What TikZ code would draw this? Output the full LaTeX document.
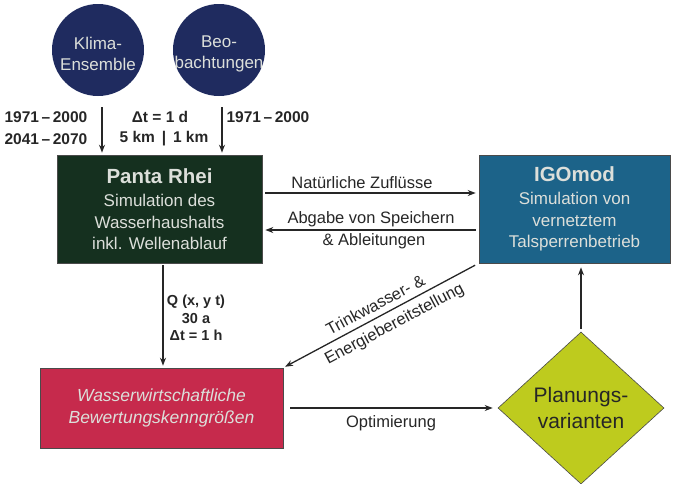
\documentclass[tikz,border=0pt]{standalone}
\usepackage{fontspec}
\setmainfont{Liberation Sans}
\usetikzlibrary{shapes.geometric,arrows.meta}

\definecolor{navy}{HTML}{1F2B5F}
\definecolor{pantagreen}{HTML}{15301F}
\definecolor{igoblue}{HTML}{1C6389}
\definecolor{bewred}{HTML}{C62A4C}
\definecolor{planyellow}{HTML}{BECB1E}
\definecolor{lighttext}{HTML}{DCDFDA}
\definecolor{edgegray}{HTML}{4A4A4A}

\tikzset{
  source/.style={circle, fill=navy, minimum size=92pt, inner sep=0pt},
  sourcetext/.style={inner sep=0pt, text=lighttext, align=center,
    font=\fontsize{17}{20.5}\selectfont},
  modelbox/.style={rectangle, draw=edgegray, line width=0.6pt, inner sep=0pt,
    text=lighttext, align=center, font=\fontsize{17}{21.5}\selectfont},
  decision/.style={diamond, draw=edgegray, line width=0.6pt, fill=planyellow,
    inner sep=0pt, minimum width=166pt, minimum height=152pt, align=center,
    text=black!85, font=\fontsize{21}{26}\selectfont},
  flow/.style={draw=black!85, line width=1.3pt,
    -{Stealth[length=8pt,width=6pt]}},
  lbl/.style={inner sep=0pt, text=black!85, align=center,
    font=\fontsize{16.5}{20}\selectfont},
  blbl/.style={inner sep=0pt, text=black!85, align=center,
    font=\bfseries\fontsize{15.5}{22}\selectfont},
  qlbl/.style={inner sep=0pt, text=black!85, align=center,
    font=\bfseries\fontsize{14.5}{17.5}\selectfont},
}

\newcommand{\boxtitle}[1]{{\bfseries\fontsize{20.5}{22}\selectfont #1}}

\begin{document}
\begin{tikzpicture}[x=1pt,y=-1pt]
  \useasboundingbox (0,0) rectangle (674,483);

  % data sources
  \node[source] (klima) at (98,50) {};
  \node[source] (beob)  at (219,50) {};
  \node[sourcetext] (klimatext) at ([yshift=-4pt]klima.center) {Klima-\\Ensemble};
  \node[sourcetext] (beobtext)  at ([yshift=-4pt]beob.center) {Beo-\\bachtungen};

  % models
  \node[modelbox, fill=pantagreen, minimum width=205pt, minimum height=108pt]
    (panta) at (159.5,209)
    {\boxtitle{Panta Rhei}\\[2pt]Simulation des\\Wasserhaushalts\\inkl. Wellenablauf};
  \node[modelbox, fill=igoblue, minimum width=191pt, minimum height=108pt]
    (igo) at (574.5,209)
    {\boxtitle{IGOmod}\\[2pt]Simulation von\\vernetztem\\Talsperrenbetrieb};

  % evaluation and variants
  \node[modelbox, fill=bewred, minimum width=243pt, minimum height=80pt,
    font=\itshape\fontsize{17.5}{22}\selectfont]
    (bew) at (161.5,408) {Wasserwirtschaftliche\\Bewertungskenngrößen};
  \node[decision] (plan) at (581,408) {Planungs-\\varianten};

  % inputs into Panta Rhei
  \draw[flow, shorten <=11pt, shorten >=2pt]
    ([xshift=4pt]klima.south) -- ([xshift=4pt]klima.south |- panta.north);
  \draw[flow, shorten <=11pt, shorten >=2pt]
    ([xshift=3pt]beob.south) -- ([xshift=3pt]beob.south |- panta.north);

  \node[blbl] (per1) at (46,128) {1971\,–\,2000\\2041\,–\,2070};
  \node[blbl] (dt) at (160,117) {Δt = 1 d};
  \node[blbl] (res) at (164,139) {5 km\ \,|\ \,1 km};
  \node[blbl] (per2) at (268,117) {1971\,–\,2000};

  % coupling Panta Rhei <-> IGOmod
  \draw[flow, shorten <=3pt, shorten >=3pt]
    ([yshift=16pt]panta.east) -- ([yshift=16pt]igo.west);
  \draw[flow, shorten <=3pt, shorten >=3pt]
    ([yshift=-21pt]igo.west) -- ([yshift=-21pt]panta.east);
  \node[lbl] (zufl) at (362,183) {Natürliche Zuflüsse};
  \node[lbl] (abg)  at (371,219) {Abgabe von Speichern};
  \node[lbl] (abl)  at (374,241) {\& Ableitungen};

  % Panta Rhei -> evaluation
  \draw[flow, shorten <=2pt, shorten >=2pt]
    ([xshift=3.5pt]panta.south) -- ([xshift=3.5pt]panta.south |- bew.north);
  \node[qlbl] (q) at (196,318) {Q (x, y t)\\30 a\\Δt = 1 h};

  % IGOmod -> evaluation
  \draw[flow, shorten <=4pt, shorten >=2pt] (igo.south west) --
    node[lbl, sloped, above=5.5pt, pos=0.5] (trink) {Trinkwasser- \&}
    node[lbl, sloped, below=6pt, pos=0.465] (energ) {Energiebereitstellung}
    (bew.north east);

  % optimisation loop
  \draw[flow, shorten <=7pt, shorten >=5pt] (bew.east) -- (plan.west);
  \node[lbl] (opt) at (391,423) {Optimierung};
  \draw[flow, shorten <=3pt, shorten >=4pt] (plan.north) -- (plan.north |- igo.south);
\end{tikzpicture}
\end{document}
